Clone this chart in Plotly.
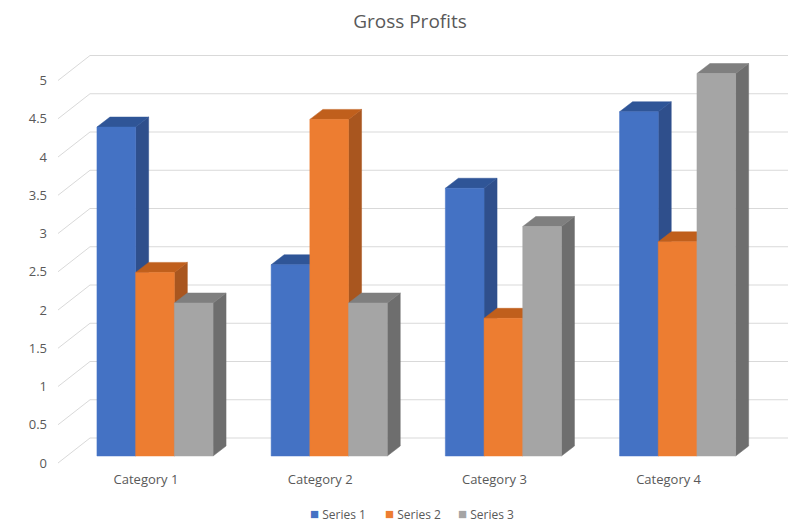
import plotly.graph_objects as go

categories = ["Category 1", "Category 2", "Category 3", "Category 4"]
series_names = ["Series 1", "Series 2", "Series 3"]
series_1 = [4.3, 2.5, 3.5, 4.5]
series_2 = [2.4, 4.4, 1.8, 2.8]
series_3 = [2.0, 2.0, 3.0, 5.0]
y_ticks = [0, 0.5, 1, 1.5, 2, 2.5, 3, 3.5, 4, 4.5, 5]
y_tick_labels = ["0", "0.5", "1", "1.5", "2", "2.5", "3", "3.5", "4", "4.5", "5"]

values = [series_1, series_2, series_3]
front_colors = ["#4472C4", "#ED7D31", "#A5A5A5"]
side_colors = ["#2F4F8C", "#A9561F", "#6E6E6E"]
top_colors = ["#2F5597", "#C05F1C", "#7F7F7F"]

# pixel layout of the fake 3d view (oblique projection)
# the page body has an 8px margin, so figure pixels = screen pixels - 8
PAGE = 8
W, H = 812, 531
PLOT_L, PLOT_R, PLOT_T, PLOT_B = 48 - PAGE, 800 - PAGE, 40 - PAGE, 470 - PAGE
ORIGIN_X, ORIGIN_Y = 155 - PAGE, 456 - PAGE   # category 0 centre / value 0 on the bar front
UNIT_X, UNIT_Y = 174.2, 76.5       # px per category / px per value unit
BAR_W = 38.7 / UNIT_X
DX, DY = 13 / UNIT_X, 10 / UNIT_Y  # bar depth
BACK_DY = 18 / UNIT_Y              # back wall offset from bar front
FRONT_DX, FRONT_DY = -9 / UNIT_X, -7 / UNIT_Y  # floor front edge offset
WALL_LEFT_FRONT = (58 - 155) / UNIT_X
WALL_LEFT_BACK = (90 - 155) / UNIT_X
WALL_RIGHT = (788 - 155) / UNIT_X
LEGEND_X = [308, 383, 456]  # screen px of each legend swatch
LEGEND_Y = 513

fig = go.Figure()

# back wall gridlines + left side wall diagonals
gx, gy = [], []
for v in y_ticks:
    gx += [WALL_LEFT_FRONT, WALL_LEFT_BACK, WALL_RIGHT, None]
    gy += [v + FRONT_DY, v + BACK_DY, v + BACK_DY, None]
fig.add_trace(go.Scatter(x=gx, y=gy, mode="lines", line=dict(color="#D9D9D9", width=1),
                         hoverinfo="skip", showlegend=False))


def poly(xs, ys, color):
    fig.add_trace(go.Scatter(x=xs + [xs[0]], y=ys + [ys[0]], mode="lines", fill="toself",
                             fillcolor=color, line=dict(color=color, width=0.5),
                             hoverinfo="skip", showlegend=False))


# painter's order: left to right, side -> top -> front
for i in range(len(categories)):
    for j in range(len(values)):
        v = values[j][i]
        x0 = i - 1.5 * BAR_W + j * BAR_W
        x1 = x0 + BAR_W
        poly([x1, x1 + DX, x1 + DX, x1], [0, DY, v + DY, v], side_colors[j])
        poly([x0, x1, x1 + DX, x0 + DX], [v, v, v + DY, v + DY], top_colors[j])
        poly([x0, x1, x1, x0], [0, 0, v, v], front_colors[j])

# compact legend like the office one: coloured square + name
for j, name in enumerate(series_names):
    fig.add_annotation(
        text=f'<span style="color:{front_colors[j]};font-size:15px">■</span> {name}',
        xref="paper", yref="paper", showarrow=False, xanchor="left", yanchor="middle",
        x=(LEGEND_X[j] - PAGE - PLOT_L) / (PLOT_R - PLOT_L),
        y=(PLOT_B - (LEGEND_Y - PAGE)) / (PLOT_B - PLOT_T),
        font=dict(size=12, color="#595959"),
    )

fig.update_layout(
    width=W, height=H, autosize=False, showlegend=False,
    margin=dict(l=PLOT_L, r=W - PLOT_R, t=PLOT_T, b=H - PLOT_B),
    paper_bgcolor="white", plot_bgcolor="white",
    font=dict(family="Open Sans", size=13, color="#595959"),
    title=dict(text="Gross Profits", x=(410 - PAGE) / W, xanchor="center",
               y=1 - (21.5 - PAGE) / H, yanchor="middle",
               font=dict(size=19, color="#595959")),
    xaxis=dict(range=[(PLOT_L - ORIGIN_X) / UNIT_X, (PLOT_R - ORIGIN_X) / UNIT_X],
               showgrid=False, zeroline=False, showline=False, ticks="",
               tickvals=[i + FRONT_DX for i in range(len(categories))], ticktext=categories,
               tickfont=dict(size=13, color="#595959"), fixedrange=True),
    yaxis=dict(range=[(ORIGIN_Y - PLOT_B) / UNIT_Y, (ORIGIN_Y - PLOT_T) / UNIT_Y],
               showgrid=False, zeroline=False, showline=False, ticks="",
               tickvals=[v + FRONT_DY for v in y_ticks], ticktext=y_tick_labels,
               tickfont=dict(size=13, color="#595959"), fixedrange=True),
)

fig.write_html("out.html")
